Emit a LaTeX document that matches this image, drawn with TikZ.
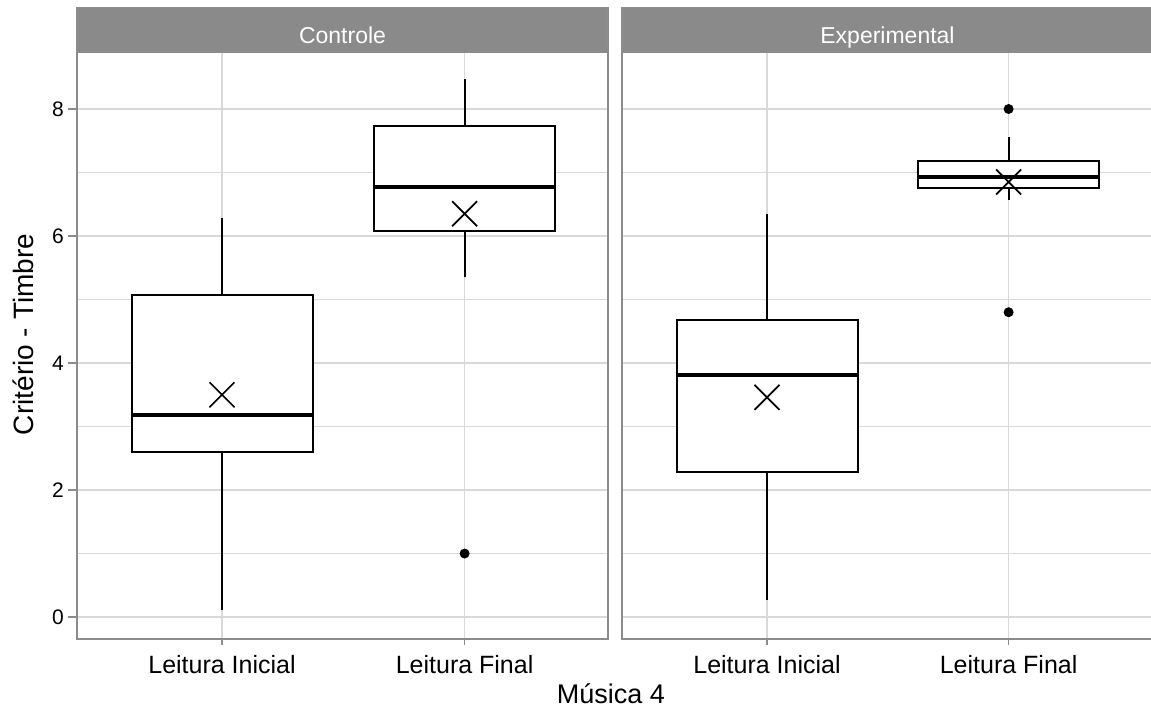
\documentclass[tikz,border=0pt]{standalone}
\usepackage{fontspec}
\setmainfont{Liberation Sans}
\begin{document}
\begin{tikzpicture}[x=1pt,y=63.5pt,
    gridline/.style={gray!30,line width=1.2pt},
    frame/.style={draw=black!45,line width=1.5pt},
    boxline/.style={line width=2pt},
    ticklabel/.style={anchor=base,font=\fontsize{25}{28}\selectfont}]

    \useasboundingbox (0,-1.512) rectangle (1151,9.717);

    % panels and grid
    \foreach \xa/\xb/\ca/\cb in {77/608/222/464.6, 622/1153/767/1008.6} {
      \foreach \v in {0,...,8}
        \draw[gridline] (\xa,\v) -- (\xb,\v);
      \draw[gridline] (\ca,-0.346) -- (\ca,8.887);
      \draw[gridline] (\cb,-0.346) -- (\cb,8.887);
      \draw[frame] (\xa,-0.346) rectangle (\xb,8.887);
      \draw[frame,fill=black!46] (\xa,8.887) rectangle (\xb,9.602);
      % ticks and labels below
      \draw[black!45,line width=1.5pt] (\ca,-0.346) -- (\ca,-0.44);
      \draw[black!45,line width=1.5pt] (\cb,-0.346) -- (\cb,-0.44);
    }

    % strip labels
    \node[anchor=base,text=white,font=\fontsize{23}{26}\selectfont] (ctrl) at (342.5,9.039) {Controle};
    \node[anchor=base,text=white,font=\fontsize{23}{26}\selectfont] (expt) at (887.5,9.039) {Experimental};

    % category labels
    \node[ticklabel] (ini1) at (222,-0.882) {Leitura Inicial};
    \node[ticklabel] (fin1) at (464.6,-0.882) {Leitura Final};
    \node[ticklabel] (ini2) at (767,-0.882) {Leitura Inicial};
    \node[ticklabel] (fin2) at (1008.6,-0.882) {Leitura Final};

    % y axis
    \foreach \v in {0,2,4,6,8} {
      \draw[black!45,line width=1.5pt] (68,\v) -- (77,\v);
      \node[anchor=east,font=\fontsize{21}{24}\selectfont,inner sep=0pt] (y\v) at (64,\v) {\v};
    }

    % axis titles
    \node[rotate=90,font=\fontsize{28}{32}\selectfont] (ylab) at (23,4.45) {Critério - Timbre};
    \node[anchor=base,font=\fontsize{27}{30}\selectfont] (xlab) at (611,-1.354) {Música 4};

    % boxplots
    \foreach \x/\lo/\qa/\med/\qb/\hi/\mean in {
        222/0.11/2.6/3.18/5.07/6.28/3.5,
        464.6/5.35/6.08/6.77/7.73/8.47/6.35,
        767/0.27/2.28/3.81/4.68/6.35/3.46,
        1008.6/6.57/6.76/6.93/7.18/7.56/6.85} {
      \draw[boxline] (\x,\lo) -- (\x,\qa);
      \draw[boxline] (\x,\qb) -- (\x,\hi);
      \draw[boxline,fill=white] (\x-90.5,\qa) rectangle (\x+90.5,\qb);
      \draw[line width=3.4pt] (\x-90.5,\med) -- (\x+90.5,\med);
      \draw[line width=1.7pt] (\x,\mean) +(-12.5pt,-12.5pt) -- +(12.5pt,12.5pt)
                                         +(-12.5pt,12.5pt) -- +(12.5pt,-12.5pt);
    }

    % outliers
    \fill (464.6,1.0) circle[radius=5pt];
    \fill (1008.6,8.0) circle[radius=5pt];
    \fill (1008.6,4.8) circle[radius=5pt];

\end{tikzpicture}
\end{document}
